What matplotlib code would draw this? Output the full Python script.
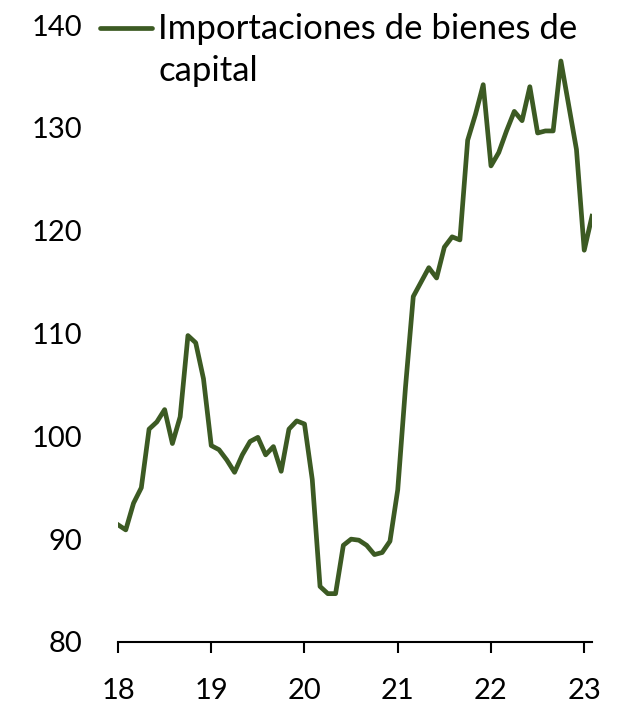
import numpy as np
import matplotlib
matplotlib.use("Agg")
import matplotlib.pyplot as plt

plt.rcParams['font.family'] = ['Lato', 'DejaVu Sans']

# monthly index, Jan 2018 .. Feb 2023
years = [18, 19, 20, 21, 22, 23]
values = [91.4, 90.9, 93.5, 95.0, 100.7, 101.4, 102.6, 99.3, 101.9, 109.8,
          109.1, 105.6, 99.1, 98.7, 97.7, 96.5, 98.2, 99.5, 99.9, 98.2,
          99.0, 96.6, 100.7, 101.5, 101.2, 95.8, 85.4, 84.7, 84.7, 89.4,
          90.0, 89.9, 89.4, 88.5, 88.7, 89.8, 94.8, 104.8, 113.6, 115.0,
          116.4, 115.4, 118.4, 119.4, 119.1, 128.8, 131.3, 134.2, 126.3, 127.6,
          129.7, 131.6, 130.7, 134.0, 129.5, 129.7, 129.7, 136.5, 132.2, 127.9,
          118.1, 121.4]
label = "Importaciones de bienes de\ncapital"
color = "#3C5A23"

x = 18 + np.arange(len(values)) / 12.0

fig = plt.figure(figsize=(6.25, 7.05), dpi=100)
ax = fig.add_axes([0.1888, 0.0894, 0.7584, 0.8751])
ax.plot(x, values, color=color, linewidth=3.4)

ax.set_xlim(18, x[-1])
ax.set_ylim(80, 140)
ax.set_xticks(years)
ax.set_yticks(np.arange(80, 141, 10))
for s in ['top', 'right', 'left']:
    ax.spines[s].set_visible(False)
ax.spines['bottom'].set_linewidth(1.5)
ax.tick_params(axis='x', length=8, width=1.5, pad=18, labelsize=21)
ax.tick_params(axis='y', length=0, pad=26, labelsize=21)

# legend drawn by hand so the key sits on the first text line
ax.plot([-0.038, 0.072], [0.995, 0.995], color=color, linewidth=3.4,
        transform=ax.transAxes, clip_on=False, solid_capstyle='round')
ax.text(0.0844, 1.019, label, transform=ax.transAxes, fontsize=25,
        ha='left', va='top', linespacing=1.36)
fig.savefig('out.png', dpi=100)
